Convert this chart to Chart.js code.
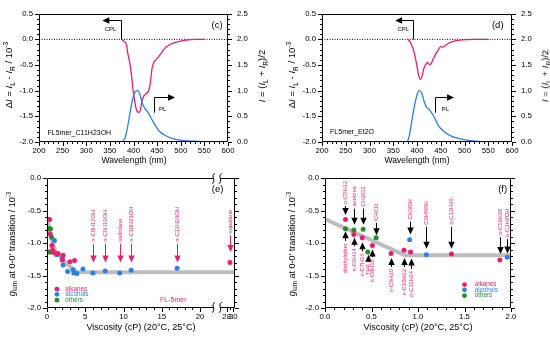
<!DOCTYPE html>
<html>
<head>
<meta charset="utf-8">
<script src="https://cdn.jsdelivr.net/npm/chart.js@4.4.1/dist/chart.umd.min.js"></script>
<style>
  body { margin: 0; background: #fff; }
  #wrap { position: relative; width: 550px; height: 338px; overflow: hidden; font-family: "Liberation Sans", Arial, sans-serif; }
  canvas { position: absolute; }
  .ttl { position: absolute; white-space: nowrap; color: #000; line-height: 1; transform: translate(-50%, -50%); }
  .rot { transform: translate(-50%, -50%) rotate(-90deg); }
  .ttl sub, .ttl sup { font-size: 70%; line-height: 0; }
</style>
</head>
<body>
<div id="wrap">
  <canvas id="chartC" width="275" height="165" style="left:0;top:0"></canvas>
  <canvas id="chartD" width="275" height="165" style="left:275px;top:0"></canvas>
  <canvas id="chartE" width="275" height="173" style="left:0;top:165px"></canvas>
  <canvas id="chartF" width="275" height="173" style="left:275px;top:165px"></canvas>

  <div class="ttl" style="left:134px;top:160px;font-size:8.6px">Wavelength (nm)</div>
  <div class="ttl" style="left:417px;top:160px;font-size:8.6px">Wavelength (nm)</div>
  <div class="ttl rot" style="left:9px;top:75px;font-size:9.5px">&Delta;<i>I</i> = <i>I</i><sub>L</sub> - <i>I</i><sub>R</sub> / 10<sup>-3</sup></div>
  <div class="ttl rot" style="left:292px;top:75px;font-size:9.5px">&Delta;<i>I</i> = <i>I</i><sub>L</sub> - <i>I</i><sub>R</sub> / 10<sup>-3</sup></div>
  <div class="ttl rot" style="left:262px;top:76px;font-size:9.5px"><i>I</i> = (<i>I</i><sub>L</sub> + <i>I</i><sub>R</sub>)/2</div>
  <div class="ttl rot" style="left:545px;top:76px;font-size:9.5px"><i>I</i> = (<i>I</i><sub>L</sub> + <i>I</i><sub>R</sub>)/2</div>
  <div class="ttl" style="left:141px;top:328px;font-size:9.1px">Viscosity (cP) (20°C, 25°C)</div>
  <div class="ttl" style="left:418px;top:328px;font-size:9.1px">Viscosity (cP) (20°C, 25°C)</div>
  <div class="ttl rot" style="left:12px;top:244px;font-size:9px"><i>g</i><sub>lum</sub> at 0-0' transition / 10<sup>-3</sup></div>
  <div class="ttl rot" style="left:292px;top:244px;font-size:9px"><i>g</i><sub>lum</sub> at 0-0' transition / 10<sup>-3</sup></div>
</div>
<script>
const FONT = '"Liberation Sans", Arial, sans-serif';
const PINK = "#f01a6e";
const BLUE = "#2a80ea";
const GREEN = "#1f8f2a";
const GRAY = "#bdbdbd";

// ---- (c) FL5mer in n-C11H23OH ----
const cCplWave = [374, 380, 385, 388, 392, 396, 399, 402, 405, 408, 412, 415, 418, 422, 428, 433, 436, 439, 443, 448, 453, 458, 463, 469, 477, 489, 502, 515, 530, 551];
const cCplVal = [0.0, -0.04, -0.10, -0.28, -0.45, -0.72, -0.98, -1.18, -1.33, -1.41, -1.42, -1.36, -1.19, -1.10, -1.05, -0.98, -0.82, -0.58, -0.45, -0.39, -0.34, -0.28, -0.21, -0.15, -0.10, -0.06, -0.03, -0.01, 0.0, 0.0];
const cPlWave = [375, 381, 386, 391, 396, 400, 404, 408, 412, 416, 421, 427, 433, 440, 447, 455, 465, 478, 495, 515, 540, 554];
const cPlVal = [0.0, 0.06, 0.22, 0.48, 0.74, 0.90, 0.98, 1.0, 0.97, 0.84, 0.70, 0.62, 0.54, 0.42, 0.31, 0.21, 0.14, 0.08, 0.04, 0.02, 0.01, 0.0];

// ---- (d) FL5mer in Et2O ----
const dCplWave = [380, 385, 389, 393, 397, 401, 404, 407, 409, 412, 415, 419, 422, 426, 429, 433, 438, 444, 450, 455, 461, 470, 480, 495, 520, 551];
const dCplVal = [0.0, -0.04, -0.12, -0.22, -0.38, -0.58, -0.72, -0.78, -0.76, -0.66, -0.55, -0.48, -0.45, -0.49, -0.48, -0.41, -0.31, -0.22, -0.14, -0.15, -0.11, -0.06, -0.03, -0.01, 0.0, 0.0];
const dPlWave = [380, 385, 390, 396, 401, 405, 410, 415, 420, 426, 432, 438, 445, 455, 469, 487, 508, 530, 551];
const dPlVal = [0.0, 0.18, 0.46, 0.76, 0.95, 1.0, 0.95, 0.79, 0.68, 0.63, 0.55, 0.45, 0.32, 0.22, 0.13, 0.07, 0.03, 0.01, 0.0];

const waveTicks = [200, 250, 300, 350, 400, 450, 500, 550, 600];
const dIntTicks = [-2.0, -1.5, -1.0, -0.5, 0.0, 0.5];
const plTicks = [0.0, 0.5, 1.0, 1.5, 2.0, 2.5];

// ---- (e) g_lum vs viscosity, all solvents ----
const eAlkX = [0.35, 0.43, 0.64, 0.72, 0.95, 1.45, 2.1, 2.0, 3.0, 3.6, 29];
const eAlkY = [-0.64, -0.86, -1.04, -1.11, -1.15, -1.16, -1.19, -1.26, -1.29, -1.27, -1.30];
const eAlcX = [0.97, 1.27, 2.0, 2.1, 2.7, 3.4, 3.5, 3.9, 4.7, 6.0, 7.6, 9.5, 11.0, 17.0];
const eAlcY = [-0.96, -1.18, -1.23, -1.34, -1.44, -1.41, -1.46, -1.47, -1.40, -1.46, -1.43, -1.46, -1.42, -1.39];
const eOthX = [0.25, 0.45, 0.6, 0.3, 0.55];
const eOthY = [-0.78, -0.78, -0.91, -1.14, -1.14];
const eFitX = [0, 0.45, 1.1, 2.6, 3.9, 30.5];
const eFitY = [-0.60, -0.88, -1.13, -1.32, -1.45, -1.45];
const eNames = ["n-C8H17OH", "n-C9H19OH", "sulfolane", "n-C10H21OH", "n-C11H23OH", "squalane"];
const eNameX = [6.0, 7.6, 9.5, 11.0, 17.0, 29];
const eNameBase = [-0.98, -0.98, -0.98, -0.98, -0.98, -0.85];
const eNameTip = [-1.30, -1.30, -1.30, -1.30, -1.30, -1.14];
const eTickVals = [0, 5, 10, 15, 20, 28, 30];
const eTickLabels = ["0", "5", "10", "15", "20", "28", "30"];

// ---- (f) g_lum vs viscosity, low-viscosity range ----
const fAlkX = [0.22, 0.31, 0.40, 0.51, 0.71, 0.85, 0.92, 1.36, 1.88];
const fAlkY = [-0.64, -0.87, -0.92, -1.04, -1.16, -1.11, -1.14, -1.17, -1.26];
const fAlcX = [0.91, 1.09, 1.96];
const fAlcY = [-0.95, -1.18, -1.22];
const fOthX = [0.22, 0.31, 0.41, 0.55, 0.46];
const fOthY = [-0.78, -0.80, -0.79, -0.92, -1.14];
const fFitX = [0, 0.86, 2.0];
const fFitY = [-0.63, -1.19, -1.19];
const fDownNames = ["n-C5H12", "acetone", "CH2Cl2", "CHCl3", "CH3OH", "C2H5OH", "n-C12H26", "n-C13H28", "n-C3H7OH"];
const fDownX = [0.22, 0.31, 0.41, 0.55, 0.91, 1.09, 1.36, 1.88, 1.96];
const fDownBase = [-0.40, -0.44, -0.44, -0.66, -0.64, -0.72, -0.72, -0.88, -0.91];
const fDownTip = [-0.57, -0.72, -0.72, -0.88, -0.87, -1.09, -1.09, -1.17, -1.16];
const fUpNames = ["diethylether", "n-C6H14", "n-C7H16", "THF", "n-C8H18", "n-C9H20", "n-C10H22", "n-C11H24"];
const fUpX = [0.22, 0.31, 0.40, 0.46, 0.51, 0.71, 0.85, 0.93];
const fUpTop = [-1.00, -1.08, -1.16, -1.32, -1.25, -1.40, -1.40, -1.43];
const fUpTip = [-0.82, -0.92, -0.99, -1.18, -1.10, -1.23, -1.23, -1.24];
const fTicks = [0.0, 0.5, 1.0, 1.5, 2.0];
const gTicks = [-2.0, -1.5, -1.0, -0.5, 0.0];

const legendNames = ["alkanes", "alcohols", "others"];
const legendColors = [PINK, BLUE, GREEN];

Chart.defaults.font.family = FONT;
Chart.defaults.color = "#000";

// broken x axis of (e): 0-20 linear, then 28-30 squeezed in after the break
function ex(v) {
  return v <= 20 ? v : 23.48 + (v - 28) * 0.435;
}

function xy(xs, ys, map) {
  return xs.map((x, i) => ({ x: map ? map(x) : x, y: ys[i] }));
}

function range(a, b, step) {
  const out = [];
  for (let v = a; v <= b + 1e-9; v += step) out.push(Math.round(v * 1000) / 1000);
  return out;
}

function head(ctx, x, y, dir, len = 7, half = 3.2) {
  ctx.beginPath();
  if (dir === "left") { ctx.moveTo(x, y); ctx.lineTo(x + len, y - half); ctx.lineTo(x + len, y + half); }
  if (dir === "right") { ctx.moveTo(x, y); ctx.lineTo(x - len, y - half); ctx.lineTo(x - len, y + half); }
  if (dir === "down") { ctx.moveTo(x, y); ctx.lineTo(x - half, y - len); ctx.lineTo(x + half, y - len); }
  if (dir === "up") { ctx.moveTo(x, y); ctx.lineTo(x - half, y + len); ctx.lineTo(x + half, y + len); }
  ctx.closePath();
  ctx.fill();
}

function tickMarks(ctx, scale, side, majors, minors) {
  const a = scale.chart.chartArea;
  ctx.beginPath();
  const put = (v, len) => {
    const p = Math.round(scale.getPixelForValue(v)) + 0.5;
    if (side === "bottom") { ctx.moveTo(p, a.bottom); ctx.lineTo(p, a.bottom + len); }
    if (side === "left") { ctx.moveTo(a.left, p); ctx.lineTo(a.left - len, p); }
    if (side === "right") { ctx.moveTo(a.right, p); ctx.lineTo(a.right + len, p); }
  };
  majors.forEach((v) => put(v, 4));
  minors.filter((v) => !majors.some((m) => Math.abs(m - v) < 1e-6)).forEach((v) => put(v, 2));
  ctx.stroke();
}

function squiggle(ctx, x, y) {
  ctx.beginPath();
  ctx.moveTo(x - 1.5, y + 5);
  ctx.bezierCurveTo(x + 3.5, y + 3, x - 3.5, y - 3, x + 1.5, y - 5);
  ctx.stroke();
}

// box frame + outward major/minor ticks, Igor style
function framePlugin(spec) {
  return {
    id: "frame",
    afterDraw(chart) {
      const ctx = chart.ctx;
      const a = chart.chartArea;
      const L = Math.round(a.left) + 0.5, R = Math.round(a.right) - 0.5;
      const T = Math.round(a.top) + 0.5, B = Math.round(a.bottom) - 0.5;
      ctx.save();
      ctx.strokeStyle = "#000";
      ctx.lineWidth = 1;
      ctx.beginPath();
      ctx.moveTo(L, T); ctx.lineTo(L, B);
      ctx.moveTo(R, T); ctx.lineTo(R, B);
      if (spec.gap) {
        const g1 = chart.scales.x.getPixelForValue(spec.gap[0]);
        const g2 = chart.scales.x.getPixelForValue(spec.gap[1]);
        [T, B].forEach((yy) => { ctx.moveTo(L, yy); ctx.lineTo(g1, yy); ctx.moveTo(g2, yy); ctx.lineTo(R, yy); });
      } else {
        [T, B].forEach((yy) => { ctx.moveTo(L, yy); ctx.lineTo(R, yy); });
      }
      ctx.stroke();
      if (spec.gap) {
        [T, B].forEach((yy) => {
          squiggle(ctx, chart.scales.x.getPixelForValue(spec.gap[0]), yy);
          squiggle(ctx, chart.scales.x.getPixelForValue(spec.gap[1]), yy);
        });
      }
      tickMarks(ctx, chart.scales.x, "bottom", spec.x[0], spec.x[1]);
      tickMarks(ctx, chart.scales.y, "left", spec.y[0], spec.y[1]);
      const rs = spec.y2 ? chart.scales.y2 : chart.scales.y;
      const rt = spec.y2 || spec.y;
      tickMarks(ctx, rs, "right", rt[0], rt[1]);
      ctx.restore();
    },
  };
}

function rotText(ctx, text, x, y, align) {
  ctx.save();
  ctx.translate(x, y);
  ctx.rotate(-Math.PI / 2);
  ctx.textAlign = align;
  ctx.textBaseline = "middle";
  ctx.fillText(text, 0, 0);
  ctx.restore();
}

// CPL / PL elbow arrows, sample name and panel letter
function spectrumNotes(n) {
  return {
    id: "notes",
    afterDatasetsDraw(chart) {
      const ctx = chart.ctx;
      const x = chart.scales.x, y = chart.scales.y, y2 = chart.scales.y2;
      ctx.save();
      ctx.strokeStyle = "#000";
      ctx.fillStyle = "#000";
      ctx.lineWidth = 1;
      const cx = Math.round(x.getPixelForValue(n.cpl[0])) + 0.5;
      const cy0 = y.getPixelForValue(0);
      const cy1 = Math.round(y.getPixelForValue(n.cpl[1])) + 0.5;
      const ce = x.getPixelForValue(n.cpl[2]);
      ctx.beginPath(); ctx.moveTo(cx, cy0); ctx.lineTo(cx, cy1); ctx.lineTo(ce + 6, cy1); ctx.stroke();
      head(ctx, ce, cy1, "left");
      const px = Math.round(x.getPixelForValue(n.pl[0])) + 0.5;
      const py0 = y2.getPixelForValue(n.pl[1]);
      const py1 = Math.round(y2.getPixelForValue(n.pl[2])) + 0.5;
      const pe = x.getPixelForValue(n.pl[3]);
      ctx.beginPath(); ctx.moveTo(px, py0); ctx.lineTo(px, py1); ctx.lineTo(pe - 6, py1); ctx.stroke();
      head(ctx, pe, py1, "right");
      ctx.font = "6px " + FONT;
      ctx.textBaseline = "middle";
      ctx.textAlign = "left";
      ctx.fillText("CPL", x.getPixelForValue(n.cplText[0]), y.getPixelForValue(n.cplText[1]));
      ctx.fillText("PL", x.getPixelForValue(n.plText[0]), y2.getPixelForValue(n.plText[1]));
      ctx.font = "7px " + FONT;
      ctx.fillText(n.sample, x.getPixelForValue(n.sampleAt[0]), y.getPixelForValue(n.sampleAt[1]));
      ctx.font = "9.5px " + FONT;
      ctx.textAlign = "center";
      ctx.fillText(n.letter, x.getPixelForValue(n.letterAt[0]), y.getPixelForValue(n.letterAt[1]));
      ctx.restore();
    },
  };
}

// solvent labels with arrows, legend, panel letter
function solventNotes(n) {
  return {
    id: "notes",
    afterDatasetsDraw(chart) {
      const ctx = chart.ctx;
      const xs = chart.scales.x, ys = chart.scales.y;
      const mx = n.mapX || ((v) => v);
      ctx.save();
      ctx.lineWidth = 1;
      ctx.font = "5.8px " + FONT;
      n.down.names.forEach((name, i) => {
        const px = Math.round(xs.getPixelForValue(mx(n.down.x[i]))) + 0.5;
        const pb = ys.getPixelForValue(n.down.base[i]);
        const pt = ys.getPixelForValue(n.down.tip[i]);
        ctx.fillStyle = PINK;
        rotText(ctx, name, px, pb, "left");
        ctx.strokeStyle = n.arrowColor;
        ctx.fillStyle = n.arrowColor;
        ctx.beginPath(); ctx.moveTo(px, pb + 2); ctx.lineTo(px, pt - 6); ctx.stroke();
        head(ctx, px, pt, "down");
      });
      if (n.up) {
        n.up.names.forEach((name, i) => {
          const px = Math.round(xs.getPixelForValue(n.up.x[i])) + 0.5;
          const pb = ys.getPixelForValue(n.up.top[i]);
          const pt = ys.getPixelForValue(n.up.tip[i]);
          ctx.fillStyle = PINK;
          rotText(ctx, name, px, pb, "right");
          ctx.strokeStyle = n.arrowColor;
          ctx.fillStyle = n.arrowColor;
          ctx.beginPath(); ctx.moveTo(px, pb - 2); ctx.lineTo(px, pt + 6); ctx.stroke();
          head(ctx, px, pt, "up");
        });
      }
      // legend
      ctx.font = "6.3px " + FONT;
      ctx.textAlign = "left";
      ctx.textBaseline = "middle";
      legendNames.forEach((name, i) => {
        const py = ys.getPixelForValue(n.legendY[i]);
        ctx.fillStyle = legendColors[i];
        ctx.beginPath();
        ctx.arc(xs.getPixelForValue(n.legendX[0]), py, 2.4, 0, Math.PI * 2);
        ctx.fill();
        ctx.fillText(name, xs.getPixelForValue(n.legendX[1]), py);
      });
      if (n.tag) {
        ctx.font = "7px " + FONT;
        ctx.fillStyle = PINK;
        ctx.textAlign = "center";
        ctx.fillText(n.tag, xs.getPixelForValue(n.tagAt[0]), ys.getPixelForValue(n.tagAt[1]));
      }
      ctx.font = "9.5px " + FONT;
      ctx.fillStyle = "#000";
      ctx.textAlign = "center";
      ctx.fillText(n.letter, xs.getPixelForValue(n.letterAt[0]), ys.getPixelForValue(n.letterAt[1]));
      ctx.restore();
    },
  };
}

function axis(position, min, max, ticks, size, pad, fmt, extra) {
  return Object.assign({
    type: "linear",
    position,
    min,
    max,
    afterBuildTicks: (s) => { s.ticks = ticks.map((v) => ({ value: v })); },
    afterFit: (s) => { if (position === "bottom") s.height = size; else s.width = size; },
    grid: { display: false, drawTicks: false },
    border: { display: false },
    ticks: { font: { size: 7.8 }, color: "#000", padding: pad, autoSkip: false, maxRotation: 0, callback: fmt },
  }, extra || {});
}

const oneDec = (v) => Number(v).toFixed(1);
const noDec = (v) => String(Math.round(v));

function makeSpectrum(id, cplX, cplY, plX, plY, box, notes) {
  new Chart(document.getElementById(id), {
    type: "line",
    data: {
      datasets: [
        { data: xy(plX, plY), yAxisID: "y2", borderColor: BLUE, borderWidth: 1.3, pointRadius: 0, cubicInterpolationMode: "monotone", order: 0 },
        { data: xy(cplX, cplY), yAxisID: "y", borderColor: PINK, borderWidth: 1.3, pointRadius: 0, cubicInterpolationMode: "monotone", order: 1 },
        { data: [{ x: waveTicks[0], y: 0 }, { x: waveTicks[waveTicks.length - 1], y: 0 }], yAxisID: "y", borderColor: "#000", borderWidth: 1, borderDash: [1, 1.5], pointRadius: 0, order: 2 },
      ],
    },
    options: {
      responsive: false,
      animation: false,
      events: [],
      layout: { padding: { top: box.top, left: 0, right: 0, bottom: 0 } },
      plugins: { legend: { display: false }, tooltip: { enabled: false } },
      scales: {
        x: axis("bottom", 200, 600, waveTicks, box.bottom, 4, noDec),
        y: axis("left", -2, 0.5, dIntTicks, box.left, 6, oneDec),
        y2: axis("right", 0, 2.5, plTicks, box.right, 9, oneDec),
      },
    },
    plugins: [
      framePlugin({ x: [waveTicks, range(200, 600, 10)], y: [dIntTicks, range(-2, 0.5, 0.1)], y2: [plTicks, range(0, 2.5, 0.1)] }),
      spectrumNotes(notes),
    ],
  });
}

makeSpectrum("chartC", cCplWave, cCplVal, cPlWave, cPlVal,
  { top: 9, left: 39, right: 47, bottom: 23 },
  { cpl: [374, 0.375, 334], pl: [443, 0.57, 0.88, 488], cplText: [339, 0.2], plText: [454, 0.64],
    sample: "FL5mer_C11H23OH", sampleAt: [218, -1.82], letter: "(c)", letterAt: [577, 0.27] });

makeSpectrum("chartD", dCplWave, dCplVal, dPlWave, dPlVal,
  { top: 9, left: 47, right: 38, bottom: 23 },
  { cpl: [392, 0.375, 354], pl: [437, 0.57, 0.88, 478], cplText: [359, 0.2], plText: [452, 0.64],
    sample: "FL5mer_Et2O", sampleAt: [217, -1.80], letter: "(d)", letterAt: [570, 0.27] });

function makeViscosity(id, d, box, notes, xScale, frameX, gap) {
  new Chart(document.getElementById(id), {
    type: "scatter",
    data: {
      datasets: [
        { data: xy(d.alkX, d.alkY, notes.mapX), backgroundColor: PINK, borderWidth: 0, pointRadius: 2.5, order: 0 },
        { data: xy(d.alcX, d.alcY, notes.mapX), backgroundColor: BLUE, borderWidth: 0, pointRadius: 2.5, order: 0 },
        { data: xy(d.othX, d.othY, notes.mapX), backgroundColor: GREEN, borderWidth: 0, pointRadius: 2.5, order: 0 },
        { data: xy(d.fitX, d.fitY, notes.mapX), showLine: true, borderColor: GRAY, borderWidth: 4, pointRadius: 0, order: 1 },
      ],
    },
    options: {
      responsive: false,
      animation: false,
      events: [],
      layout: { padding: { top: box.top, right: box.right, left: 0, bottom: 0 } },
      plugins: { legend: { display: false }, tooltip: { enabled: false } },
      scales: {
        x: xScale,
        y: axis("left", -2, 0, gTicks, box.left, 6, oneDec),
      },
    },
    plugins: [
      framePlugin({ x: frameX, y: [gTicks, range(-2, 0, 0.1)], gap }),
      solventNotes(notes),
    ],
  });
}

const eTickPos = eTickVals.map(ex);
makeViscosity("chartE",
  { alkX: eAlkX, alkY: eAlkY, alcX: eAlcX, alcY: eAlcY, othX: eOthX, othY: eOthY, fitX: eFitX, fitY: eFitY },
  { top: 13, right: 40, left: 47 },
  { mapX: ex, arrowColor: PINK,
    down: { names: eNames, x: eNameX, base: eNameBase, tip: eNameTip },
    legendX: [1.3, 2.4], legendY: [-1.71, -1.79, -1.88],
    tag: "FL-5mer", tagAt: [16.5, -1.88], letter: "(e)", letterAt: [22.3, -0.17] },
  axis("bottom", 0, ex(30.5), eTickPos, 30, 4, (v, i) => eTickLabels[i]),
  [eTickPos, range(0, 20, 1).concat([ex(29)])],
  [21.75, 22.65]);

makeViscosity("chartF",
  { alkX: fAlkX, alkY: fAlkY, alcX: fAlcX, alcY: fAlcY, othX: fOthX, othY: fOthY, fitX: fFitX, fitY: fFitY },
  { top: 13, right: 39, left: 50 },
  { arrowColor: "#000",
    down: { names: fDownNames, x: fDownX, base: fDownBase, tip: fDownTip },
    up: { names: fUpNames, x: fUpX, top: fUpTop, tip: fUpTip },
    legendX: [1.50, 1.61], legendY: [-1.64, -1.72, -1.81],
    letter: "(f)", letterAt: [1.91, -0.17] },
  axis("bottom", 0, 2, fTicks, 30, 4, oneDec),
  [fTicks, range(0, 2, 0.1)],
  null);
</script>
</body>
</html>
